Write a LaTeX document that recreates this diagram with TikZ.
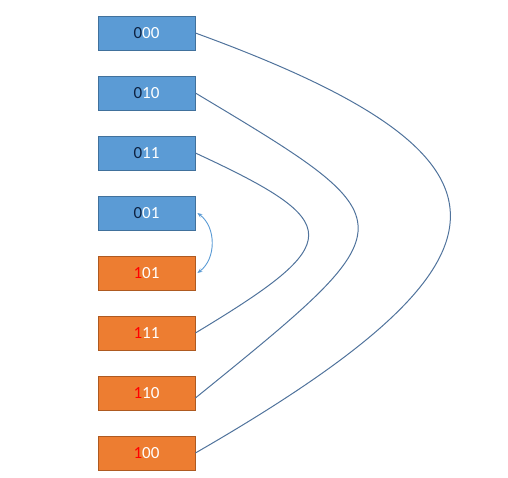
\documentclass[tikz,border=0pt]{standalone}
\usepackage{fontspec}
\setmainfont{Carlito}
\usetikzlibrary{arrows.meta}
\definecolor{boxblue}{HTML}{5B9BD5}
\definecolor{lineblue}{HTML}{41719C}
\definecolor{boxorange}{HTML}{ED7D31}
\definecolor{lineorange}{HTML}{AE5A21}
\definecolor{digitnavy}{HTML}{0E2343}
\definecolor{curveblue}{HTML}{50739C}
\begin{document}
\begin{tikzpicture}[x={(1pt,0)}, y={(0,-1pt)},
  code/.style={draw, line width=0.8pt, text=white, minimum width=97pt, minimum height=34pt,
    inner sep=0pt, font=\fontsize{17}{20}\selectfont},
  low/.style={code, fill=boxblue, draw=lineblue},
  high/.style={code, fill=boxorange, draw=lineorange},
  swap/.style={draw=curveblue, line width=1pt}]
  \useasboundingbox (0,0) rectangle (508,478);
  \node [low] (b000) at (146.5,33) {\textcolor{digitnavy}{0}00};
  \node [low] (b010) at (146.5,93) {\textcolor{digitnavy}{0}10};
  \node [low] (b011) at (146.5,153) {\textcolor{digitnavy}{0}11};
  \node [low] (b001) at (146.5,213) {\textcolor{digitnavy}{0}01};
  \node [high] (b101) at (146.5,273) {\textcolor{red}{1}01};
  \node [high] (b111) at (146.5,333) {\textcolor{red}{1}11};
  \node [high] (b110) at (146.5,393) {\textcolor{red}{1}10};
  \node [high] (b100) at (146.5,453) {\textcolor{red}{1}00};
  % the three long swaps
  \path [swap] (b000.east) .. controls +(340,124) and +(340,-196) .. (b100.east);
  \path [swap] (b010.east) .. controls +(217,130) and +(217,-176) .. ([yshift=-5pt]b110.east);
  \path [swap] (b011.east) .. controls +(151,70) and +(151,-91) .. (b111.east);
  % short one in the middle
  \path [draw=boxblue, line width=0.9pt, arrows={Stealth[length=5pt,width=4pt]-Stealth[length=5pt,width=4pt]}]
    ([xshift=2pt]b001.east) .. controls +(19,14) and +(19,-14) .. ([xshift=2pt]b101.east);
\end{tikzpicture}
\end{document}
